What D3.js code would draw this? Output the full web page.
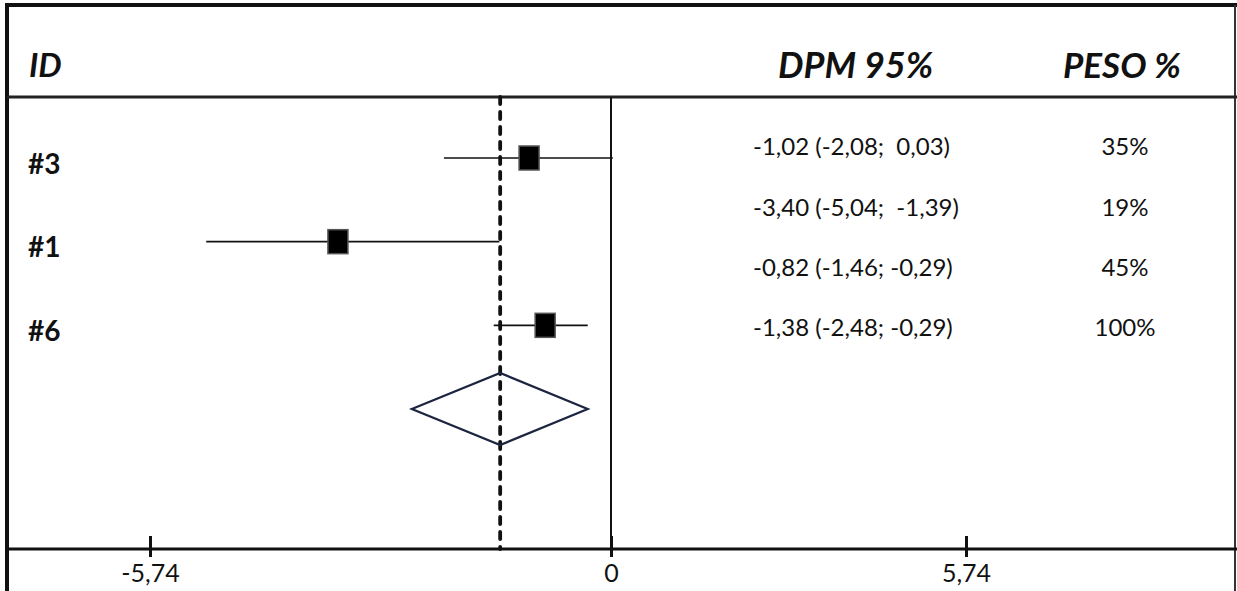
<!DOCTYPE html>
<html>
<head>
<meta charset="utf-8">
<script src="https://cdn.jsdelivr.net/npm/d3@7"></script>
<style>
  html, body { margin: 0; padding: 0; background: #fff; }
  svg { display: block; }
  text { font-family: Lato, "Open Sans", sans-serif; fill: #111; }
</style>
</head>
<body>
<svg id="chart" width="1237" height="591"></svg>
<script>
// Study data
const studies = ['#3', '#1', '#6'];
const estimates = [-1.02, -3.40, -0.82];
const lowerCI = [-2.08, -5.04, -1.46];
const upperCI = [0.03, -1.39, -0.29];

// Pooled result
const pooledEstimate = -1.38;
const pooledLower = -2.48;
const pooledUpper = -0.29;

// Right-hand table
const ciLabels = [
    '-1,02 (-2,08;  0,03)',
    '-3,40 (-5,04;  -1,39)',
    '-0,82 (-1,46; -0,29)',
    '-1,38 (-2,48; -0,29)'
];
const weightLabels = ['35%', '19%', '45%', '100%'];

// Axis ticks
const tickValues = [-5.74, 0, 5.74];
const tickLabels = ['-5,74', '0', '5,74'];

const width = 1237;
const height = 591;
const headerY = 97;
const axisY = 549;

const svg = d3.select('#chart');

// x scale - the drawn axis is not symmetric around zero
const x = d3.scaleLinear()
    .domain([-5.74, 0, 5.74])
    .range([150, 611, 966]);

// rows in the plot area (3 studies + pooled diamond)
const yPlot = d3.scalePoint()
    .domain(d3.range(studies.length + 1))
    .range([158, 409]);

// rows in the table
const yTable = d3.scalePoint()
    .domain(d3.range(ciLabels.length))
    .range([147, 328]);

// Frame
svg.append('line').attr('x1', 5).attr('x2', width).attr('y1', 5).attr('y2', 5)
    .attr('stroke', '#111').attr('stroke-width', 4);
svg.append('line').attr('x1', 7).attr('x2', 7).attr('y1', 3).attr('y2', height)
    .attr('stroke', '#111').attr('stroke-width', 4);
svg.append('line').attr('x1', 1235).attr('x2', 1235).attr('y1', 5).attr('y2', height)
    .attr('stroke', '#333').attr('stroke-width', 2);
svg.append('line').attr('x1', 7).attr('x2', width).attr('y1', headerY).attr('y2', headerY)
    .attr('stroke', '#222').attr('stroke-width', 3);

// Header
const header = svg.append('g')
    .style('font-weight', 700)
    .style('font-style', 'italic');
header.append('text').attr('x', 29).attr('y', 77).style('font-size', '33px').text('ID');
header.append('text').attr('x', 778).attr('y', 78).style('font-size', '36px').text('DPM 95%');
header.append('text').attr('x', 1063).attr('y', 78).style('font-size', '35px').text('PESO %');

// Zero line
svg.append('line')
    .attr('x1', x(0)).attr('x2', x(0))
    .attr('y1', headerY).attr('y2', axisY)
    .attr('stroke', '#111').attr('stroke-width', 2);

// Pooled estimate dashed line
svg.append('line')
    .attr('x1', x(pooledEstimate)).attr('x2', x(pooledEstimate))
    .attr('y1', headerY).attr('y2', axisY)
    .attr('stroke', '#111').attr('stroke-width', 3.8)
    .attr('stroke-dasharray', '7 8')
    .attr('stroke-linecap', 'round');

// Axis
svg.append('line').attr('x1', 7).attr('x2', width).attr('y1', axisY).attr('y2', axisY)
    .attr('stroke', '#111').attr('stroke-width', 3);

const axis = svg.append('g')
    .attr('transform', `translate(0,${axisY})`)
    .call(d3.axisBottom(x)
        .tickValues(tickValues)
        .tickFormat((d, i) => tickLabels[i])
        .tickSize(8)
        .tickPadding(7));
axis.select('.domain').remove();
axis.selectAll('.tick line')
    .attr('y1', -13).attr('y2', 8)
    .attr('stroke', '#111').attr('stroke-width', 3);
axis.selectAll('.tick text')
    .style('font-family', 'Lato, "Open Sans", sans-serif')
    .style('font-size', '25px')
    .attr('fill', '#111');

// Study labels
svg.append('g')
    .selectAll('text')
    .data(studies)
    .join('text')
    .attr('x', 28)
    .attr('y', (d, i) => yPlot(i) + 6)
    .attr('dy', '0.35em')
    .style('font-weight', 700)
    .style('font-size', '28px')
    .text(d => d);

// Confidence intervals
svg.append('g')
    .selectAll('line')
    .data(estimates)
    .join('line')
    .attr('x1', (d, i) => x(lowerCI[i]))
    .attr('x2', (d, i) => x(upperCI[i]))
    .attr('y1', (d, i) => yPlot(i))
    .attr('y2', (d, i) => yPlot(i))
    .attr('stroke', '#111')
    .attr('stroke-width', 1.6);

// Point estimates
const boxW = 20, boxH = 24;
svg.append('g')
    .selectAll('rect')
    .data(estimates)
    .join('rect')
    .attr('x', d => x(d) - boxW / 2)
    .attr('y', (d, i) => yPlot(i) - boxH / 2)
    .attr('width', boxW)
    .attr('height', boxH)
    .attr('fill', '#000')
    .attr('stroke', '#555')
    .attr('stroke-width', 1.5);

// Pooled diamond
const dy = yPlot(studies.length);
const halfH = 36;
svg.append('path')
    .attr('d', d3.line()([
        [x(pooledLower), dy],
        [x(pooledEstimate), dy - halfH],
        [x(pooledUpper), dy],
        [x(pooledEstimate), dy + halfH]
    ]) + 'Z')
    .attr('fill', 'none')
    .attr('stroke', '#1c2440')
    .attr('stroke-width', 2.2)
    .attr('stroke-linejoin', 'miter');

// Table text
svg.append('g')
    .selectAll('text')
    .data(ciLabels)
    .join('text')
    .attr('x', 753)
    .attr('y', (d, i) => yTable(i))
    .attr('dy', '0.35em')
    .attr('xml:space', 'preserve')
    .style('white-space', 'pre')
    .style('font-size', '24px')
    .text(d => d);

svg.append('g')
    .selectAll('text')
    .data(weightLabels)
    .join('text')
    .attr('x', 1125)
    .attr('y', (d, i) => yTable(i))
    .attr('dy', '0.35em')
    .attr('text-anchor', 'middle')
    .style('font-size', '24px')
    .text(d => d);
</script>
</body>
</html>
